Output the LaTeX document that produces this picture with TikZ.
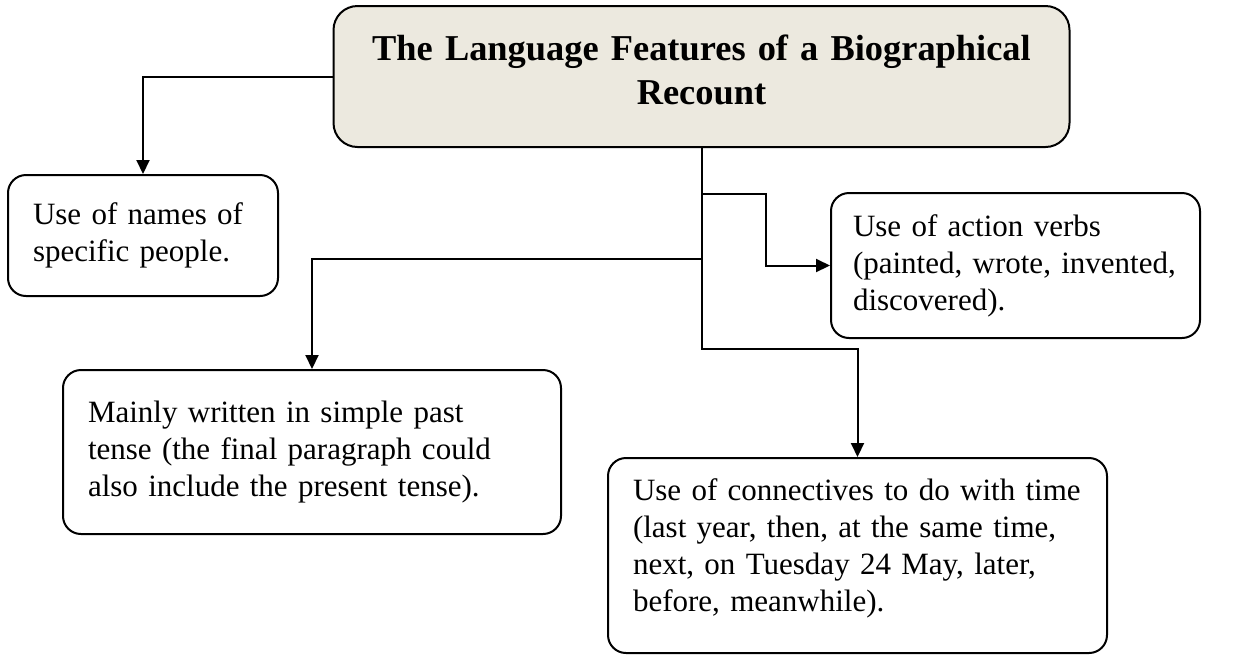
\documentclass[tikz,border=0pt]{standalone}
\usepackage{fontspec}
\setmainfont{Liberation Serif}
\usetikzlibrary{positioning}
\usetikzlibrary{calc}
\usetikzlibrary{arrows.meta}
\definecolor{heading colour}{RGB}{236,233,223}
\tikzset{
    % Filled triangle heads, like the chart
    >={Triangle[length=7pt, width=6.5pt]},
%
    % Text in the boxes runs from the left
    every node/.style={align=left},
}

\begin{document}
\begin{tikzpicture}[
    basic box/.style={draw, line width=1pt, rounded corners=9pt,
        inner xsep=12.5pt, inner ysep=0pt,
        font=\fontsize{15.5}{18.5}\selectfont},
    heading/.style={basic box, fill=heading colour, rounded corners=12pt,
        align=center, font=\fontsize{18.2}{22}\selectfont\bfseries},
    link/.style={line width=1pt, ->},
    x=0.5pt, y=0.5pt,
]

\useasboundingbox (0,0) rectangle (1241,-655);

\path
    (701.5,-76.5) node [heading, text width=343pt, minimum height=70.5pt] (title)
        {The Language Features of a Biographical\\Recount\\[-15pt]\mbox{}}
    (143,-235.5) node [basic box, text width=110pt, minimum height=60.5pt] (names)
        {Use of names of\\specific people.}
    (1015.5,-265.5) node [basic box, inner xsep=11pt, text width=162.5pt, minimum height=72.5pt] (verbs)
        {Use of action verbs\\(painted, wrote, invented,\\discovered).}
    (312,-452) node [basic box, text width=224pt, minimum height=82pt] (tense)
        {Mainly written in simple past\\tense (the final paragraph could\\also include the present tense).}
    (857.5,-555.5) node [basic box, text width=224.5pt, minimum height=97.5pt] (time)
        {Use of connectives to do with time\\(last year, then, at the same time,\\next, on Tuesday 24 May, later,\\before, meanwhile).\\[-8.5pt]\mbox{}};

\draw [link] (title.west) -| (names.north);
\draw [link] (title.south) -- ++(0,-46) -- ++(64,0) |- (verbs.west);
\draw [link] (title.south) -- ++(0,-111) -| (tense.north);
\draw [link] (title.south) -- ++(0,-201) -| (time.north);

\end{tikzpicture}
\end{document}
